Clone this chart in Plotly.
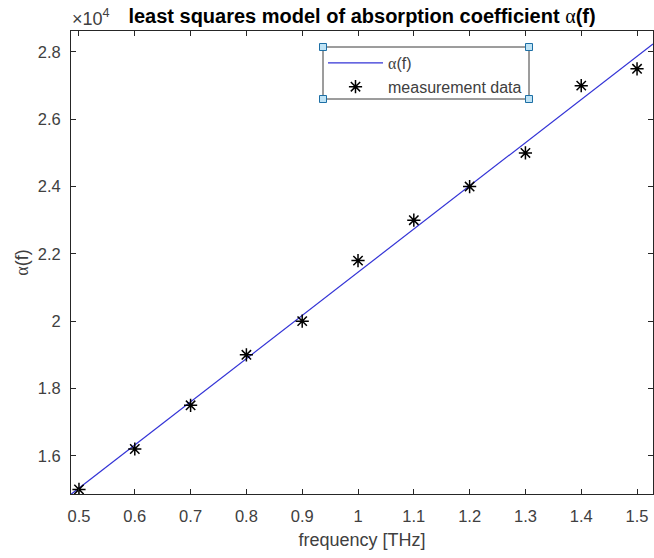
import numpy as np
import plotly.graph_objects as go

# ---- data ----
freq_thz = [0.5, 0.6, 0.7, 0.8, 0.9, 1.0, 1.1, 1.2, 1.3, 1.4, 1.5]
alpha_meas = [15000, 16200, 17500, 19000, 20000, 21800, 23000, 24000, 25000, 27000, 27500]
x_range = [0.4857, 1.5286]
y_range = [14863, 28624]
x_ticks = [0.5, 0.6, 0.7, 0.8, 0.9, 1.0, 1.1, 1.2, 1.3, 1.4, 1.5]
x_tick_labels = ["0.5", "0.6", "0.7", "0.8", "0.9", "1", "1.1", "1.2", "1.3", "1.4", "1.5"]
y_ticks = [16000, 18000, 20000, 22000, 24000, 26000, 28000]
y_tick_labels = ["1.6", "1.8", "2", "2.2", "2.4", "2.6", "2.8"]

# least squares model
slope, intercept = np.polyfit(freq_thz, alpha_meas, 1)
fit_f = np.array(x_range)
fit_alpha = slope * fit_f + intercept

W, H = 654, 558
L, R, T, B = 71, 1, 31, 64
PW, PH = W - L - R, H - T - B

def px(x):
    return (x - L) / PW

def py(y):
    return (H - B - y) / PH

AX = "#262626"
TXT = "#404040"
FONT = "Liberation Sans, Arial, sans-serif"
SERIF = "Liberation Serif, Times New Roman, serif"
alpha_sym = f"<span style='font-family:{SERIF}'>α</span>"

fig = go.Figure()
fig.add_trace(go.Scatter(
    x=fit_f, y=fit_alpha, mode="lines", name=f"{alpha_sym}(f)",
    line=dict(color="#3333d6", width=1.2),
))
fig.add_trace(go.Scatter(
    x=freq_thz, y=alpha_meas, mode="markers", name="measurement data",
    marker=dict(symbol="asterisk-open", size=11, color="black",
                line=dict(color="black", width=1.5)),
))

axis_common = dict(
    showgrid=False, zeroline=False, showline=True, linecolor=AX, linewidth=1,
    mirror="ticks", ticks="inside", ticklen=5, tickwidth=1, tickcolor=AX,
    tickfont=dict(family=FONT, size=16.5, color=TXT), automargin=False,
)

fig.update_layout(
    template="none",
    width=W, height=H,
    margin=dict(l=L, r=R, t=T, b=B, autoexpand=False),
    paper_bgcolor="white", plot_bgcolor="white",
    font=dict(family=FONT, color=TXT),
    xaxis=dict(range=x_range, tickvals=x_ticks, ticktext=x_tick_labels,
               ticklabelstandoff=7,
               title=dict(text="frequency [THz]", font=dict(size=18, color=TXT), standoff=9),
               **axis_common),
    yaxis=dict(range=y_range, tickvals=y_ticks, ticktext=y_tick_labels,
               ticklabelstandoff=6,
               title=dict(text=f"{alpha_sym}(f)", font=dict(size=18, color=TXT), standoff=4),
               **axis_common),
    title=dict(text=f"<b>least squares model of absorption coefficient </b>{alpha_sym}<b>(f)</b>",
               x=0.5, xref="paper", xanchor="center",
               y=1 - 16 / H, yref="container", yanchor="middle",
               font=dict(family=FONT, size=20, color="black")),
    legend=dict(x=px(323), y=py(46), xanchor="left", yanchor="top",
                bgcolor="rgba(0,0,0,0)", borderwidth=0, itemwidth=55,
                font=dict(family=FONT, size=16, color=TXT),
                tracegroupgap=0),
    showlegend=True,
)

# x10^4 exponent label
fig.add_annotation(xref="paper", yref="paper", x=px(70), y=py(17),
                   xanchor="left", yanchor="middle", showarrow=False,
                   text="×10<sup>4</sup>", font=dict(family=FONT, size=18, color=TXT))

# legend box and selection handles
bx0, by0, bx1, by1 = 323, 47, 529, 99
fig.add_shape(type="rect", xref="paper", yref="paper",
              x0=px(bx0), x1=px(bx1), y0=py(by1), y1=py(by0),
              line=dict(color="#3a3a3a", width=1), fillcolor="rgba(255,255,255,0)", layer="above")
hs = 3.5
for cx, cy in [(bx0, by0), (bx1, by0), (bx0, by1), (bx1, by1)]:
    fig.add_shape(type="rect", xref="paper", yref="paper",
                  x0=px(cx - hs), x1=px(cx + hs), y0=py(cy + hs), y1=py(cy - hs),
                  line=dict(color="#1d6fa5", width=1), fillcolor="#bfe3f5", layer="above")

fig.write_html("out.html", config={"displayModeBar": False},
               post_script="document.body.style.margin='0';document.body.style.overflow='hidden';")
